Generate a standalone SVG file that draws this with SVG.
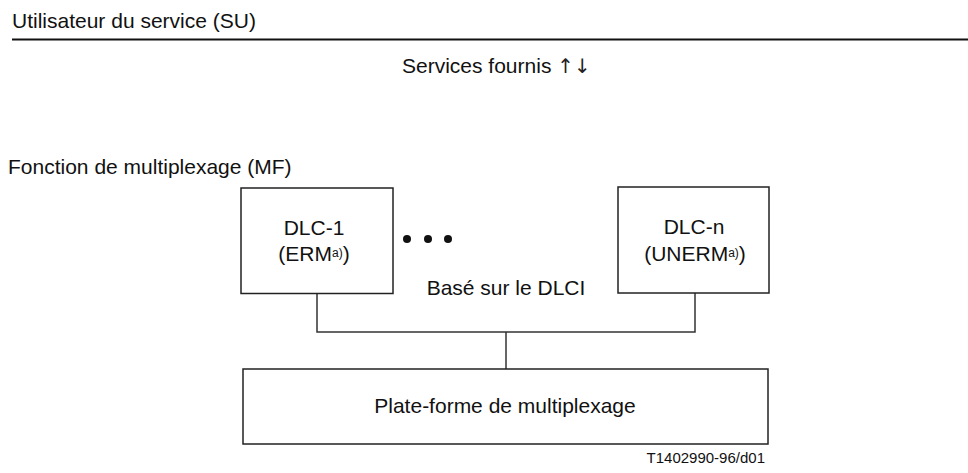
<svg xmlns="http://www.w3.org/2000/svg" width="968" height="473" viewBox="0 0 968 473">
<style>
text{font-family:"Liberation Sans",Arial,sans-serif;font-size:21px;fill:#111}
.box{fill:#fff;stroke:#222;stroke-width:1.5}
.ln{fill:none;stroke:#333;stroke-width:1.5}
.sup{font-size:12px}
.mid{text-anchor:middle}
.arr{font-family:"DejaVu Sans",sans-serif;font-size:20px;fill:#222}
</style>
<rect width="968" height="473" fill="#fff"/>
<g id="su">
<text x="12" y="28">Utilisateur du service (SU)</text>
<line x1="12" y1="39.5" x2="968" y2="39.5" stroke="#111" stroke-width="2"/>
</g>
<g id="services">
<text x="402" y="73">Services fournis <tspan class="arr">↑↓</tspan></text>
</g>
<g id="mf">
<text x="8" y="174">Fonction de multiplexage (MF)</text>
</g>
<g id="connectors">
<polyline class="ln" points="317,293.5 317,332 695,332 695,293"/>
<line class="ln" x1="506" y1="332" x2="506" y2="369"/>
</g>
<g id="dlc1">
<rect class="box" x="241" y="188" width="152" height="105.5"/>
<text class="mid" x="314" y="235">DLC-1</text>
<text class="mid" x="314" y="261">(ERM<tspan class="sup" dy="-4">a)</tspan><tspan dy="4">)</tspan></text>
</g>
<g id="dots">
<circle cx="407" cy="239" r="4" fill="#111"/>
<circle cx="428" cy="239" r="4" fill="#111"/>
<circle cx="448" cy="239" r="4" fill="#111"/>
</g>
<g id="dlcn">
<rect class="box" x="618" y="187" width="151" height="106"/>
<text class="mid" x="694" y="234">DLC-n</text>
<text class="mid" x="695" y="261">(UNERM<tspan class="sup" dy="-4">a)</tspan><tspan dy="4">)</tspan></text>
</g>
<g id="dlci">
<text class="mid" x="506" y="295">Basé sur le DLCI</text>
</g>
<g id="platform">
<rect class="box" x="243" y="369" width="525" height="75"/>
<text class="mid" x="505" y="413">Plate-forme de multiplexage</text>
</g>
<g id="ref">
<text x="765" y="463" text-anchor="end" style="font-size:15px">T1402990-96/d01</text>
</g>
</svg>
